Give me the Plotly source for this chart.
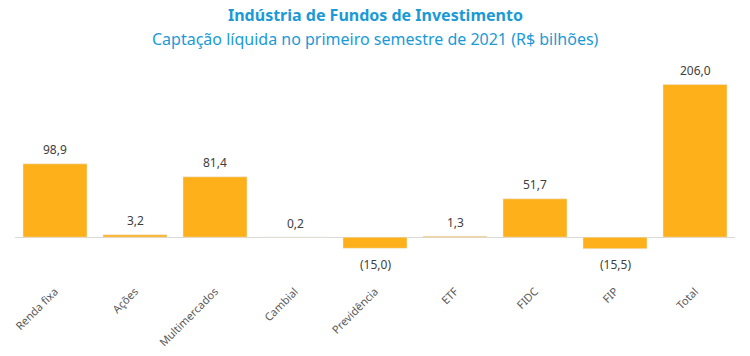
import plotly.graph_objects as go

categories = ["Renda fixa", "Ações", "Multimercados", "Cambial", "Previdência", "ETF", "FIDC", "FIP", "Total"]
values = [98.9, 3.2, 81.4, 0.2, -15.0, 1.3, 51.7, -15.5, 206.0]
title_text = "Indústria de Fundos de Investimento"
subtitle_text = "Captação líquida no primeiro semestre de 2021 (R$ bilhões)"

def fmt(v):
    s = f"{abs(v):.1f}".replace(".", ",")
    return f"({s})" if v < 0 else s

labels = [fmt(v) for v in values]

fig = go.Figure(go.Bar(
    x=categories, y=values,
    marker_color="#FDB01A", cliponaxis=False, hoverinfo="skip",
))

annotations = [
    dict(text=f"<b>{title_text}</b>", x=0.5, y=15, xref="paper", yref="paper",
         showarrow=False, xanchor="center", yanchor="middle",
         font=dict(family="Noto Sans, sans-serif", size=16, color="#1B9AD6")),
    dict(text=subtitle_text, x=0.5, y=39, xref="paper", yref="paper",
         showarrow=False, xanchor="center", yanchor="middle",
         font=dict(family="Noto Sans, sans-serif", size=16, color="#1B9AD6")),
]

plot_h = 356 - 74 - 104
for a in annotations:
    a["y"] = (356 - 104 - a["y"]) / plot_h

for c, v, t in zip(categories, values, labels):
    annotations.append(dict(
        x=c, y=v, xref="x", yref="y", text=t, showarrow=False,
        xanchor="center", yanchor="middle", yshift=(14 if v >= 0 else -16),
        font=dict(family="Noto Sans, sans-serif", size=12, color="#404040"),
    ))

fig.update_layout(
    width=750, height=356,
    margin=dict(l=15, r=15, t=74, b=104, autoexpand=False),
    plot_bgcolor="white", paper_bgcolor="white",
    bargap=0.2, showlegend=False,
    annotations=annotations,
    xaxis=dict(tickangle=-45, showline=False, ticks="", showgrid=False, automargin=False,
               tickfont=dict(family="Noto Sans, sans-serif", size=11, color="#595959"),
               ticklabelstandoff=30),
    yaxis=dict(range=[-20, 220], visible=True, showticklabels=False, showgrid=False,
               automargin=False,
               zeroline=True, zerolinecolor="#D9D9D9", zerolinewidth=1),
)

fig.write_html("out.html", config={"displayModeBar": False},
               post_script="document.body.style.margin='0';")
